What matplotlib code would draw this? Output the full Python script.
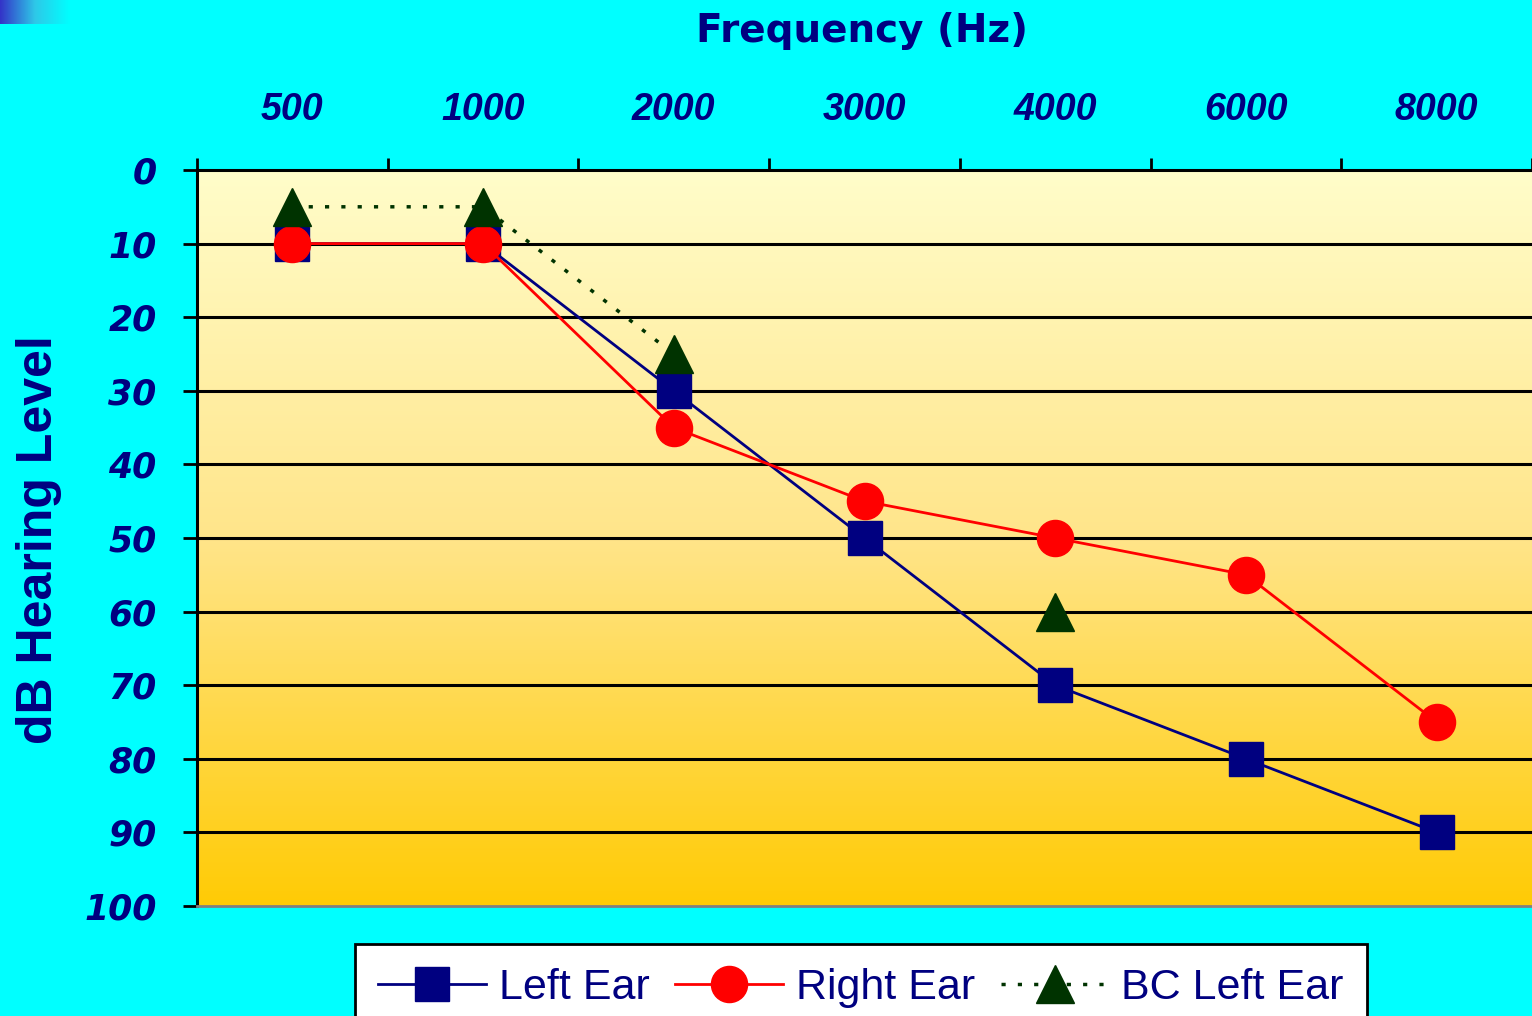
import numpy as np
import matplotlib
matplotlib.use("Agg")
import matplotlib.pyplot as plt
from matplotlib.colors import LinearSegmentedColormap

# audiogram values (dB HL) per test frequency
freqs = ["500", "1000", "2000", "3000", "4000", "6000", "8000"]
left_ear = [10, 10, 30, 50, 70, 80, 90]
right_ear = [10, 10, 35, 45, 50, 55, 75]
bc_left = [5, 5, 25, np.nan, 60, np.nan, np.nan]
db_ticks = [0, 10, 20, 30, 40, 50, 60, 70, 80, 90, 100]

navy = "#000080"
cyan = "#00FFFF"

fig = plt.figure(figsize=(15.32, 10.16), dpi=100, facecolor=cyan)

# little blue fade in the top left corner
corner = fig.add_axes([0, 1 - 24 / 1016, 70 / 1532, 24 / 1016])
corner_cmap = LinearSegmentedColormap.from_list("corner", ["#3434C8", "#2EC8E8", cyan])
corner.imshow(np.linspace(0, 1, 100)[None, :], cmap=corner_cmap, aspect="auto")
corner.axis("off")

ax = fig.add_axes([197 / 1532, 1 - 906 / 1016, 1 - 197 / 1532, (906 - 170) / 1016])
x = np.arange(len(freqs))

# yellow background gradient
bg_cmap = LinearSegmentedColormap.from_list("bg", ["#FFFDCA", "#FFE58A", "#FFCB05"])
ax.imshow(np.linspace(0, 1, 256)[:, None], cmap=bg_cmap, aspect="auto",
          extent=(-0.5, 6.5, 100, 0), zorder=0)

for d in db_ticks[1:-1]:
    ax.axhline(d, color="black", lw=2.2, zorder=1)

ax.plot(x, left_ear, color=navy, lw=2, marker="s", ms=24, mec=navy, mfc=navy,
        label="Left Ear", zorder=3)
ax.plot(x, right_ear, color="red", lw=2, marker="o", ms=26, mec="red", mfc="red",
        label="Right Ear", zorder=4)
ax.plot(x, bc_left, color="#003300", lw=2.5, ls=(0, (1.2, 3.5)), marker="^", ms=28,
        mec="#003300", mfc="#003300", label="BC Left Ear", zorder=5)

ax.set_xlim(-0.5, 6.5)
ax.set_ylim(100, 0)

# frequency axis on top: ticks between categories, labels at the centres
ax.xaxis.tick_top()
ax.set_xticks(np.arange(-0.5, 7, 1))
ax.set_xticklabels([])
ax.set_xticks(x, minor=True)
ax.set_xticklabels(freqs, minor=True, fontsize=27, fontweight="bold", style="italic",
                   family=["Liberation Sans", "DejaVu Sans"], color=navy)
ax.tick_params(axis="x", which="major", length=9, width=2, direction="out", color="black")
ax.tick_params(axis="x", which="minor", length=0, pad=30)

ax.set_yticks(db_ticks)
ax.set_yticklabels([str(d) for d in db_ticks], fontsize=25, fontweight="bold",
                   style="italic", color=navy)
ax.tick_params(axis="y", length=10, width=2, direction="out", color="black", pad=19)

ax.spines["left"].set_linewidth(2.2)
ax.spines["top"].set_linewidth(2.2)
ax.spines["bottom"].set_color("#808080")
ax.spines["bottom"].set_linewidth(2)
ax.spines["right"].set_visible(False)

fig.text(862 / 1532, 1 - 31 / 1016, "Frequency (Hz)", ha="center", va="center",
         fontsize=28, fontweight="bold", color=navy)
fig.text(39 / 1532, 1 - 540 / 1016, "dB Hearing Level", ha="center", va="center",
         rotation=90, fontsize=36, fontweight="bold", color=navy,
         family=["Liberation Sans", "DejaVu Sans"])

# legend box runs off the bottom edge
leg = fig.legend(loc="upper center", bbox_to_anchor=(861 / 1532, 1 - 944 / 1016),
                 ncol=3, frameon=True, fancybox=False, framealpha=1,
                 edgecolor="black", facecolor="white", handlelength=2.5,
                 handletextpad=0.3, columnspacing=0.6, borderpad=0.55,
                 borderaxespad=0, markerscale=1.0,
                 prop={"family": ["Liberation Sans Narrow", "Liberation Sans"], "size": 31})
leg.get_frame().set_linewidth(2)
for t in leg.get_texts():
    t.set_color(navy)

fig.savefig("out.png", dpi=100, facecolor=cyan)
